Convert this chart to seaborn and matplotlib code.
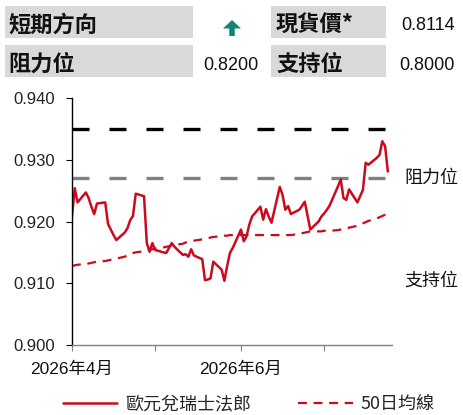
import matplotlib
matplotlib.use("Agg")
import matplotlib.pyplot as plt
import matplotlib.transforms as mtransforms
from matplotlib.patches import Rectangle, FancyArrow
from matplotlib.lines import Line2D
import seaborn as sns
import pandas as pd
import numpy as np

# ---------------- data ----------------
dates = pd.bdate_range("2026-04-01", "2026-07-24")

price_apr = [0.9208, 0.9254, 0.9231, 0.9247, 0.9238, 0.9224, 0.9212, 0.9229, 0.9231, 0.9196, 0.9187,
             0.9178, 0.9170, 0.9182, 0.9189, 0.9202, 0.9209, 0.9245, 0.9241, 0.9165, 0.9151, 0.9165]
price_may = [0.9154, 0.9150, 0.9149, 0.9157, 0.9165, 0.9159, 0.9146, 0.9147, 0.9143, 0.9155, 0.9145,
             0.9139, 0.9105, 0.9106, 0.9108, 0.9135, 0.9122, 0.9104, 0.9128, 0.9149, 0.9157]
price_jun = [0.9187, 0.9168, 0.9176, 0.9195, 0.9208, 0.9224, 0.9203, 0.9220, 0.9208, 0.9198, 0.9256,
             0.9243, 0.9219, 0.9225, 0.9212, 0.9219, 0.9225, 0.9232, 0.9210, 0.9187, 0.9200, 0.9208]
price_jul = [0.9213, 0.9219, 0.9226, 0.9257, 0.9268, 0.9238, 0.9235, 0.9252, 0.9231, 0.9241, 0.9251,
             0.9295, 0.9292, 0.9303, 0.9308, 0.9330, 0.9322, 0.9281]

ma_apr = [0.9128, 0.9129, 0.9130, 0.9131, 0.9132, 0.9133, 0.9134, 0.9135, 0.9136, 0.9137, 0.9138,
          0.9139, 0.9140, 0.9143, 0.9145, 0.9147, 0.9149, 0.9150, 0.9152, 0.9153, 0.9154, 0.9155]
ma_may = [0.9156, 0.9158, 0.9159, 0.9160, 0.9161, 0.9162, 0.9164, 0.9166, 0.9167, 0.9168, 0.9169,
          0.9171, 0.9172, 0.9173, 0.9174, 0.9175, 0.9176, 0.9177, 0.9177, 0.9178, 0.9178]
ma_jun = [0.9178, 0.9178, 0.9178, 0.9178, 0.9178, 0.9178, 0.9178, 0.9178, 0.9178, 0.9178, 0.9178,
          0.9178, 0.9178, 0.9178, 0.9178, 0.9180, 0.9181, 0.9182, 0.9183, 0.9184, 0.9184, 0.9184]
ma_jul = [0.9185, 0.9185, 0.9185, 0.9186, 0.9187, 0.9188, 0.9189, 0.9190, 0.9193, 0.9195, 0.9197,
          0.9199, 0.9201, 0.9205, 0.9207, 0.9209, 0.9211, 0.9213]

resistance_upper = 0.935
resistance_level = 0.927
support_label_y = 0.9105

series_name = "歐元兌瑞士法郎"
ma_name = "50日均線"

y_ticks = [0.900, 0.910, 0.920, 0.930, 0.940]
x_tick_dates = ["2026-04-01", "2026-05-01", "2026-06-01", "2026-07-01"]
x_tick_labels = ["2026年4月", "", "2026年6月", ""]

header_rows = [("短期方向", "up", "現貨價*", "0.8114"),
               ("阻力位", "0.8200", "支持位", "0.8000")]

df = pd.DataFrame({
    "date": dates,
    "price": price_apr + price_may + price_jun + price_jul,
    "ma": ma_apr + ma_may + ma_jun + ma_jul,
})

# ---------------- style ----------------
sns.set_theme(style="white")
CJK = ["Noto Sans CJK TC", "DejaVu Sans"]
NUM = ["Liberation Sans Narrow", "Liberation Sans", "Noto Sans CJK TC"]
plt.rcParams["font.family"] = CJK

W, H = 463, 415
fig = plt.figure(figsize=(W / 100, H / 100), dpi=100)
ax = fig.add_axes([72 / W, 1 - 345 / H, 320 / W, 247 / H])

RED = "#CC0A1E"

sns.lineplot(data=df, x="date", y="ma", ax=ax, color=RED, lw=1.6, label=ma_name, legend=False)
sns.lineplot(data=df, x="date", y="price", ax=ax, color=RED, lw=1.8, label=series_name, legend=False)
ax.lines[0].set_linestyle((0, (4, 3)))

ax.axhline(resistance_upper, color="black", lw=2.4, linestyle=(0, (5.1, 6.0)), zorder=1)
ax.axhline(resistance_level, color="#7F7F7F", lw=2.4, linestyle=(0, (5.1, 6.0)), zorder=1)

ax.set_ylim(0.900, 0.940)
ax.set_xlim(pd.Timestamp("2026-04-01"), pd.Timestamp("2026-07-25 12:00"))
ax.set_yticks(y_ticks)
ax.set_yticklabels([f"{v:.3f}" for v in y_ticks], fontfamily=NUM, fontsize=12, color="#222222")
ax.set_xticks([pd.Timestamp(d) for d in x_tick_dates])
ax.set_xticklabels(x_tick_labels, fontfamily=NUM, fontsize=12.5, color="#111111")
ax.set_xlabel("")
ax.set_ylabel("")

for s in ["top", "right"]:
    ax.spines[s].set_visible(False)
ax.spines["left"].set_color("black")
ax.spines["left"].set_linewidth(1.0)
ax.spines["bottom"].set_color("#808080")
ax.spines["bottom"].set_linewidth(1.0)
ax.tick_params(axis="y", which="major", direction="out", length=4, width=0.8, color="black", pad=8, left=True)
ax.tick_params(axis="x", which="major", direction="out", length=4, width=0.8, color="#808080", pad=8, bottom=True)

trans = mtransforms.blended_transform_factory(ax.transAxes, ax.transData)
ax.text(1.038, resistance_level, "阻力位", transform=trans, ha="left", va="center", fontsize=13, color="#111111")
ax.text(1.038, support_label_y, "支持位", transform=trans, ha="left", va="center", fontsize=13, color="#111111")

# ---------------- header table ----------------
GRAY = "#D9D9D9"
rows_y = [(6, 38), (45, 77)]
for (y0, y1), (lab1, val1, lab2, val2) in zip(rows_y, header_rows):
    for (x0, x1) in [(5, 193), (271, 386)]:
        fig.add_artist(Rectangle((x0 / W, 1 - y1 / H), (x1 - x0) / W, (y1 - y0) / H,
                                 transform=fig.transFigure, facecolor=GRAY, edgecolor="none"))
    ylab = 1 - ((y0 + y1) / 2 + 3) / H
    ynum = 1 - ((y0 + y1) / 2 + 4) / H
    fig.text(8 / W, ylab, lab1, ha="left", va="center", fontsize=16, fontweight="bold", color="#111111")
    fig.text(276 / W, ylab, lab2, ha="left", va="center", fontsize=16, fontweight="bold", color="#111111")
    if val1 == "up":
        # teal up arrow, in output pixels
        fig.add_artist(FancyArrow(232, H - 36, 0, 16, width=5.5, head_width=18, head_length=8.5,
                                  length_includes_head=True, transform=mtransforms.IdentityTransform(),
                                  facecolor="#0E857A", edgecolor="none"))
    else:
        fig.text(259 / W, ynum, val1, ha="right", va="center", fontsize=13, family=["Liberation Sans", "DejaVu Sans"],
                 color="#111111")
    fig.text(455 / W, ynum, val2, ha="right", va="center", fontsize=13, family=["Liberation Sans", "DejaVu Sans"],
             color="#111111")

# ---------------- legend ----------------
handles = [Line2D([0], [0], color=RED, lw=1.8),
           Line2D([0], [0], color=RED, lw=1.6, linestyle=(0, (4, 3)))]
fig.legend(handles, [series_name, ma_name], loc="center", bbox_to_anchor=(249 / W, 1 - 404 / H),
           ncol=2, frameon=False, fontsize=13, handlelength=3.0, handletextpad=0.45,
           columnspacing=2.6, borderaxespad=0, borderpad=0)

fig.savefig("out.png", dpi=100)
